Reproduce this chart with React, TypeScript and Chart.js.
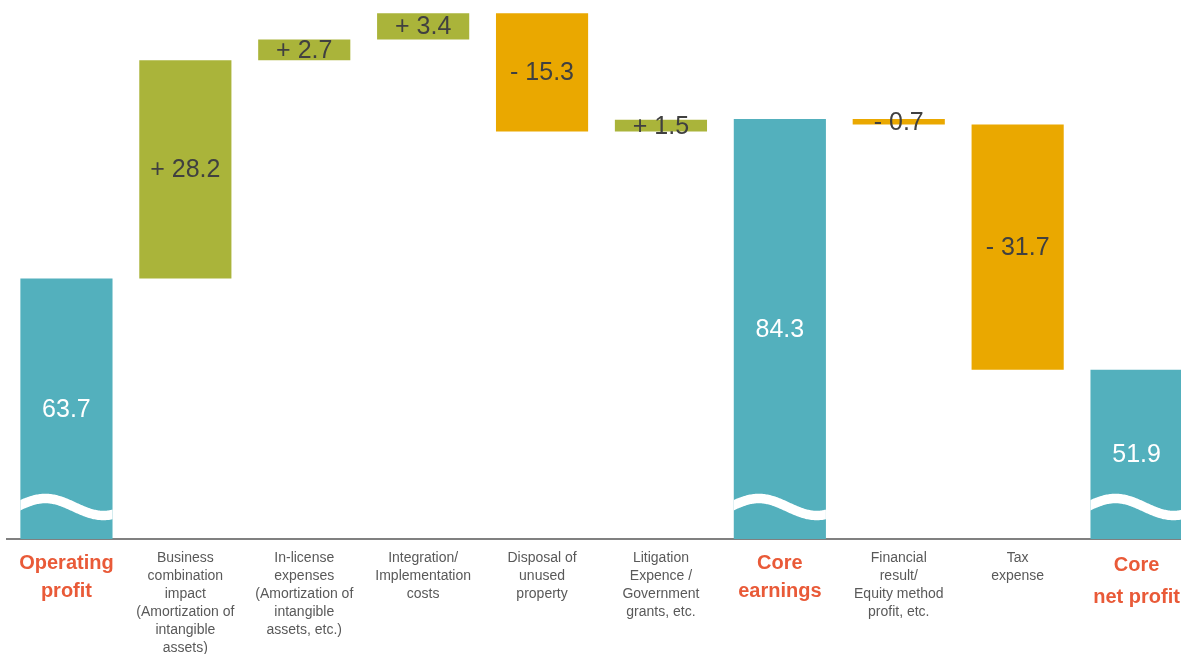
import { useEffect, useRef } from "react";
import { Chart, registerables } from "chart.js";

Chart.register(...registerables);

// ---- data ----
const categories: string[][] = [
  ["Operating", "profit"],
  ["Business", "combination", "impact", "(Amortization of", "intangible", "assets)"],
  ["In-license", "expenses", "(Amortization of", "intangible", "assets, etc.)"],
  ["Integration/", "Implementation", "costs"],
  ["Disposal of", "unused", "property"],
  ["Litigation", "Expence /", "Government", "grants, etc."],
  ["Core", "earnings"],
  ["Financial", "result/", "Equity method", "profit, etc."],
  ["Tax", "expense"],
  ["Core", "net profit"],
];
const values = [63.7, 28.2, 2.7, 3.4, -15.3, 1.5, 84.3, -0.7, -31.7, 51.9];
const kinds = ["total", "delta", "delta", "delta", "delta", "delta", "total", "delta", "delta", "total"];

// axis settings (broken axis: bars start below the visible minimum)
const yMin = 30;
const yMax = 99.7;
const axisBreakValue = 34.14;

// ---- styles ----
const TEAL = "#53B0BD";
const GREEN = "#AAB43A";
const ORANGE = "#EAA800";
const TOTAL_LABEL = "#E95A38";
const CAT_LABEL = "#595959";
const VALUE_LABEL = "#404040";
const FONT = "'Liberation Sans', Arial, Helvetica, sans-serif";

function buildRanges() {
  const ranges: [number, number][] = [];
  let running = 0;
  values.forEach((v, i) => {
    if (kinds[i] === "total") {
      ranges.push([0, v]);
      running = v;
    } else {
      ranges.push([running, running + v]);
      running = running + v;
    }
  });
  return ranges;
}

function valueText(i: number) {
  const v = values[i];
  if (kinds[i] === "total") return v.toFixed(1);
  return (v >= 0 ? "+ " : "- ") + Math.abs(v).toFixed(1);
}

const overlayPlugin = {
  id: "waterfallOverlay",
  afterDatasetsDraw(chart: any) {
    const ctx = chart.ctx as CanvasRenderingContext2D;
    const area = chart.chartArea;
    const yScale = chart.scales.y;
    const meta = chart.getDatasetMeta(0);
    const c = yScale.getPixelForValue(axisBreakValue);

    // wavy axis-break marks on total bars
    meta.data.forEach((el: any, i: number) => {
      if (kinds[i] !== "total") return;
      const left = el.x - el.width / 2;
      const right = el.x + el.width / 2;
      ctx.save();
      ctx.beginPath();
      ctx.rect(left, area.top, right - left, area.bottom - area.top);
      ctx.clip();
      ctx.beginPath();
      const A = 8.5;
      const lambda = 116;
      const phi = 4;
      for (let x = left - 6; x <= right + 6; x += 1) {
        const y = c - A * Math.sin((2 * Math.PI * (x - left + phi)) / lambda);
        if (x === left - 6) ctx.moveTo(x, y);
        else ctx.lineTo(x, y);
      }
      ctx.strokeStyle = "#FFFFFF";
      ctx.lineWidth = 9.5;
      ctx.stroke();
      ctx.restore();
    });

    // value labels
    ctx.save();
    ctx.font = `25px ${FONT}`;
    ctx.textAlign = "center";
    ctx.textBaseline = "middle";
    meta.data.forEach((el: any, i: number) => {
      const top = Math.max(Math.min(el.y, el.base), area.top);
      const bottom = Math.min(Math.max(el.y, el.base), area.bottom);
      const cy = (top + bottom) / 2;
      ctx.fillStyle = kinds[i] === "total" ? "#FFFFFF" : VALUE_LABEL;
      ctx.fillText(valueText(i), el.x, cy + 1);
    });
    ctx.restore();
  },
};

export default function App() {
  const canvasRef = useRef<HTMLCanvasElement | null>(null);

  useEffect(() => {
    if (!canvasRef.current) return;
    const ranges = buildRanges();
    const colors = values.map((v, i) =>
      kinds[i] === "total" ? TEAL : v >= 0 ? GREEN : ORANGE
    );
    const chart = new Chart(canvasRef.current, {
      type: "bar",
      data: {
        labels: categories,
        datasets: [
          {
            data: ranges as any,
            backgroundColor: colors,
            borderWidth: 0,
            barPercentage: 0.775,
            categoryPercentage: 1,
          },
        ],
      },
      options: {
        responsive: true,
        maintainAspectRatio: false,
        animation: false,
        layout: { padding: { left: 7, right: 0, top: 0, bottom: 0 } },
        plugins: {
          legend: { display: false },
          tooltip: { enabled: false },
        },
        scales: {
          y: {
            display: false,
            min: yMin,
            max: yMax,
          },
          x: {
            grid: { display: true, drawOnChartArea: false, drawTicks: false },
            border: { display: true, color: "#808080", width: 2 },
            afterFit: (scale: any) => {
              scale.height = 115;
            },
            ticks: {
              autoSkip: false,
              maxRotation: 0,
              minRotation: 0,
              padding: 10,
              color: (ctx: any) => (kinds[ctx.index] === "total" ? TOTAL_LABEL : CAT_LABEL),
              font: (ctx: any) =>
                kinds[ctx.index] === "total"
                  ? { family: FONT, size: 20, weight: "bold", lineHeight: ctx.index === 9 ? 1.6 : 1.4 }
                  : { family: FONT, size: 14, lineHeight: 18 / 14 },
            },
          },
        },
      },
      plugins: [overlayPlugin],
    });
    return () => chart.destroy();
  }, []);

  return (
    <div
      style={{
        position: "fixed",
        left: 0,
        top: 0,
        width: 1181,
        height: 654,
        overflow: "hidden",
        background: "#FFFFFF",
      }}
    >
      <div style={{ position: "relative", width: 1196, height: 654 }}>
        <canvas ref={canvasRef} />
      </div>
    </div>
  );
}
